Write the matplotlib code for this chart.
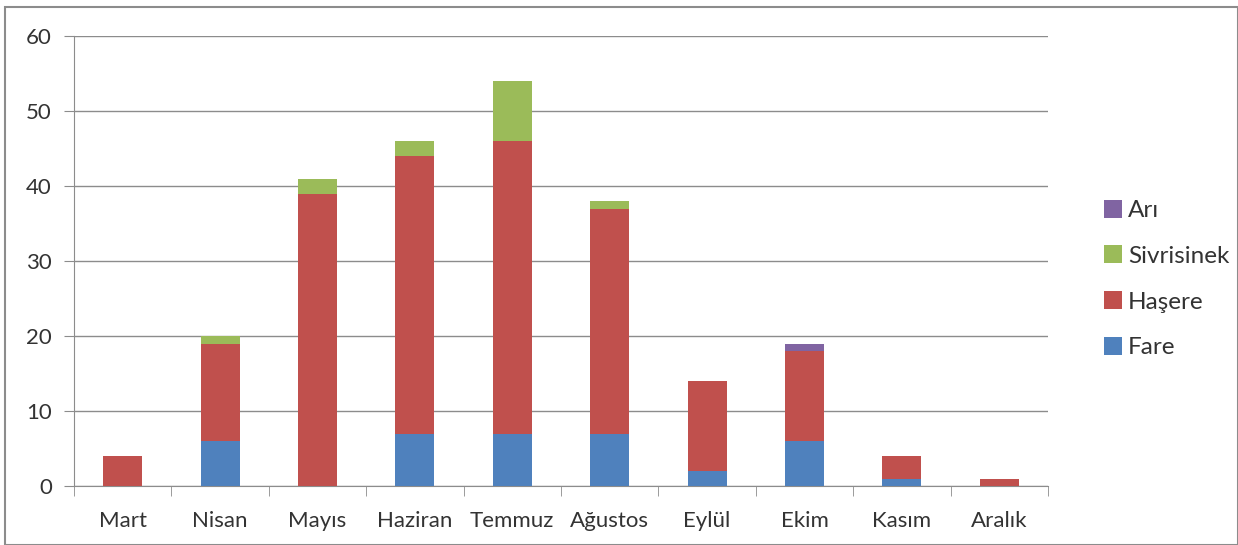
import matplotlib
matplotlib.use("Agg")
import matplotlib.pyplot as plt
import numpy as np
from matplotlib.patches import Rectangle

plt.rcParams['font.family'] = ['Lato', 'DejaVu Sans']

months = ["Mart", "Nisan", "Mayıs", "Haziran", "Temmuz", "Ağustos", "Eylül", "Ekim", "Kasım", "Aralık"]
fare = [0, 6, 0, 7, 7, 7, 2, 6, 1, 0]
hasere = [4, 13, 39, 37, 39, 30, 12, 12, 3, 1]
sivrisinek = [0, 1, 2, 2, 8, 1, 0, 0, 0, 0]
ari = [0, 0, 0, 0, 0, 0, 0, 1, 0, 0]

series = [("Fare", fare, "#4F81BD"), ("Haşere", hasere, "#C0504D"),
          ("Sivrisinek", sivrisinek, "#9BBB59"), ("Arı", ari, "#8064A2")]

fig = plt.figure(figsize=(12.38, 5.45), dpi=100)
ax = fig.add_axes([74 / 1238, 1 - 486 / 545, (1048 - 74) / 1238, (486 - 36) / 545])

x = np.arange(len(months))
bottom = np.zeros(len(months))
for name, vals, col in series:
    ax.bar(x, vals, 0.4, bottom=bottom, color=col, label=name, zorder=3)
    bottom += np.array(vals)

ax.set_xlim(-0.5, len(months) - 0.5)
ax.set_ylim(0, 60)
ax.set_yticks(range(0, 61, 10))
ax.grid(axis='y', color='#8c8c8c', linewidth=1, zorder=0)
ax.set_xticks(x)
ax.set_xticklabels(months, fontsize=16, color='#333333')
ax.tick_params(axis='x', length=0, pad=18)
ax.set_xticks(np.arange(-0.5, len(months), 1), minor=True)
ax.tick_params(axis='x', which='minor', length=7, color='#8c8c8c', direction='out')
ax.tick_params(axis='y', labelsize=16, labelcolor='#333333', length=7, color='#8c8c8c', pad=9)
for s in ['top', 'right']:
    ax.spines[s].set_visible(False)
for s in ['left', 'bottom']:
    ax.spines[s].set_color('#8c8c8c')

h, l = ax.get_legend_handles_labels()
leg = fig.legend(h[::-1], l[::-1], loc='center left', bbox_to_anchor=(1082 / 1238, 1 - 279 / 545),
                 frameon=False, fontsize=17.5, handlelength=0.75, handleheight=0.75,
                 handletextpad=0.25, labelspacing=1.0)
for t in leg.get_texts():
    t.set_color('#333333')

fig.patches.append(Rectangle((5 / 1238, 0), 1 - 5 / 1238, 1 - 7 / 545, transform=fig.transFigure,
                             fill=False, edgecolor='#8c8c8c', linewidth=1.5))

fig.savefig("out.png", dpi=100)
